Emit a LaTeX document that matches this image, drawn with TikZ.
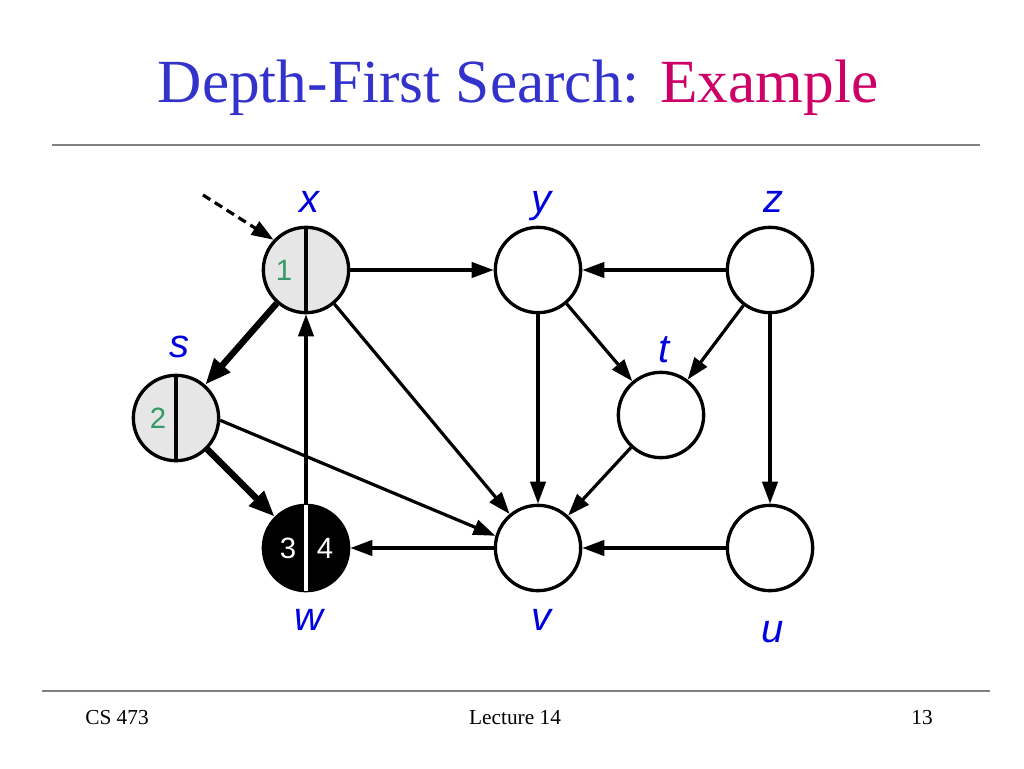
\documentclass[tikz,border=0pt]{standalone}
\usepackage{fontspec}
\setmainfont{Liberation Serif}
\newfontfamily\labfont{Liberation Sans}
\usetikzlibrary{arrows.meta}
\definecolor{titleblue}{HTML}{3333CC}
\definecolor{titlered}{HTML}{CC0066}
\definecolor{labblue}{HTML}{0000DD}
\definecolor{numgreen}{HTML}{339966}
\definecolor{lightfill}{HTML}{E6E6E6}
\definecolor{rulegray}{HTML}{808080}
\begin{document}
\begin{tikzpicture}[x=0.75pt,y=-0.75pt,
  vert/.style={circle,draw,line width=2.5pt,minimum size=64pt,inner sep=0pt,fill=white},
  visited/.style={vert,fill=lightfill},
  done/.style={vert,fill=black},
  edge/.style={line width=2.4pt,-{Triangle[length=16.5pt,width=11.5pt]}},
  tree/.style={line width=4.8pt,-{Triangle[length=19.5pt,width=15pt]}},
  lab/.style={font=\labfont\itshape\fontsize{30}{30}\selectfont,text=labblue,anchor=base},
  num/.style={font=\labfont\fontsize{22}{22}\selectfont},
  divider/.style={line width=2.5pt},
  hrule/.style={line width=1.4pt,rulegray}]
\useasboundingbox (0,0) rectangle (1024,768);
% title
\node (title) at (518,88) {\fontsize{46}{46}\selectfont\textcolor{titleblue}{Depth-First Search:} \textcolor{titlered}{Example}};
\draw[hrule] (52,145) -- (980,145);
% vertices
\node[visited] (x) at (306,270) {};
\node[vert] (y) at (538,270) {};
\node[vert] (z) at (770,270) {};
\node[visited] (s) at (176,418) {};
\node[vert] (t) at (661,415) {};
\node[done] (w) at (306,548) {};
\node[vert] (v) at (538,548) {};
\node[vert] (u) at (770,548) {};
% dividers
\draw[divider] (x.north) -- (x.south);
\draw[divider] (s.north) -- (s.south);
\draw[divider,white] ([yshift=-1.3pt]w.north) -- ([yshift=1.3pt]w.south);
% numbers
\node[num,text=numgreen] (n1) at (284,270) {1};
\node[num,text=numgreen] (n2) at (158,418) {2};
\node[num,text=white] (n3) at (288,548) {3};
\node[num,text=white] (n4) at (325,548) {4};
% labels
\node[lab] (lx) at (309,212) {x};
\node[lab] (ly) at (541,212) {y};
\node[lab] (lz) at (773,212) {z};
\node[lab] (ls) at (179,357) {s};
\node[lab] (lt) at (664,362) {t};
\node[lab] (lw) at (309,630) {w};
\node[lab] (lv) at (541,630) {v};
\node[lab] (lu) at (773,642) {u};
% edges
\draw[edge] (x) -- (y);
\draw[edge] (z) -- (y);
\draw[edge] (x) -- (v);
\draw[edge] (s.-3) -- (v.164);
\draw[edge] (w) -- (x);
\draw[edge] (y) -- (v);
\draw[edge] (y) -- (t);
\draw[edge] (z) -- (t);
\draw[edge] (t) -- (v);
\draw[edge] (z) -- (u);
\draw[edge] (u) -- (v);
\draw[edge] (v) -- (w);
\draw[tree] (x) -- (s);
\draw[tree] (s) -- (w);
% start pointer
\coordinate (start) at (203,195);
\draw[line width=2.4pt,dash pattern=on 6.5pt off 4pt,-{Triangle[length=16.5pt,width=11.5pt]}] (start) -- (x.137);
% footer
\draw[hrule] (42,691) -- (990,691);
\node (f1) at (117,718) {\fontsize{16}{16}\selectfont CS 473};
\node (f2) at (515,718) {\fontsize{16}{16}\selectfont Lecture 14};
\node (f3) at (922,718) {\fontsize{16}{16}\selectfont 13};
\end{tikzpicture}
\end{document}
